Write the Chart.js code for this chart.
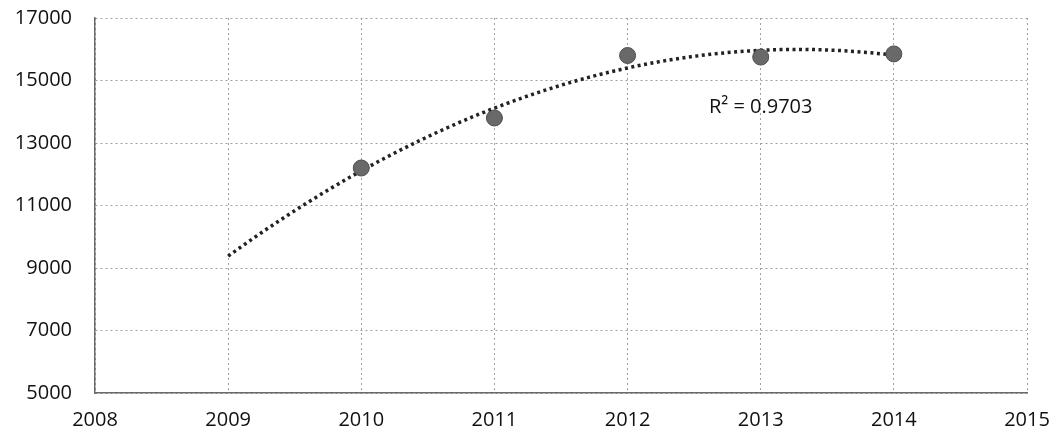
<!DOCTYPE html>
<html>
<head>
<meta charset="utf-8">
<script src="https://cdn.jsdelivr.net/npm/chart.js@4/dist/chart.umd.min.js"></script>
<style>
  html, body { margin: 0; padding: 0; background: #fff; }
  #wrap { width: 1056px; height: 437px; position: relative; }
</style>
</head>
<body>
<div id="wrap"><canvas id="chart"></canvas></div>
<script>
// Yearly observations
const years  = [2010, 2011, 2012, 2013, 2014];
const values = [12200, 13800, 15800, 15750, 15850];

// Axis ranges and ticks
const xTicks = [2008, 2009, 2010, 2011, 2012, 2013, 2014, 2015];
const yTicks = [5000, 7000, 9000, 11000, 13000, 15000, 17000];

// Trendline settings: 2nd-order polynomial, extended one period backwards
const trendBackward = 1;
const trendLabel = 'R\u00B2 = 0.9703';

// Least-squares quadratic fit of the observations
function fitQuadratic(xs, ys) {
  const n = xs.length;
  const x0 = xs.reduce((a, b) => a + b, 0) / n;
  const s = [0, 0, 0, 0, 0], t = [0, 0, 0];
  xs.forEach((x, i) => {
    const u = x - x0;
    for (let k = 0; k < 5; k++) s[k] += Math.pow(u, k);
    for (let k = 0; k < 3; k++) t[k] += ys[i] * Math.pow(u, k);
  });
  // Solve the 3x3 normal equations
  const m = [
    [s[0], s[1], s[2], t[0]],
    [s[1], s[2], s[3], t[1]],
    [s[2], s[3], s[4], t[2]]
  ];
  for (let c = 0; c < 3; c++) {
    for (let r = c + 1; r < 3; r++) {
      const f = m[r][c] / m[c][c];
      for (let k = c; k < 4; k++) m[r][k] -= f * m[c][k];
    }
  }
  const coef = [0, 0, 0];
  for (let r = 2; r >= 0; r--) {
    let v = m[r][3];
    for (let k = r + 1; k < 3; k++) v -= m[r][k] * coef[k];
    coef[r] = v / m[r][r];
  }
  return x => { const u = x - x0; return coef[0] + coef[1] * u + coef[2] * u * u; };
}

const trendFn = fitQuadratic(years, values);
const trendStart = years[0] - trendBackward;
const trendEnd = years[years.length - 1];
const trendPoints = [];
for (let i = 0; i <= 200; i++) {
  const x = trendStart + (trendEnd - trendStart) * i / 200;
  trendPoints.push({ x: x, y: trendFn(x) });
}

const FONT = '"Open Sans", "Liberation Sans", sans-serif';
const TEXT = '#111111';

const labelPlugin = {
  id: 'trendLabel',
  afterDatasetsDraw(chart, args, opts) {
    const { ctx, scales } = chart;
    const px = scales.x.getPixelForValue(opts.x);
    const py = scales.y.getPixelForValue(opts.y);
    ctx.save();
    ctx.font = '20px ' + FONT;
    ctx.fillStyle = TEXT;
    ctx.textAlign = 'center';
    ctx.textBaseline = 'middle';
    ctx.fillText(opts.text, px, py);
    ctx.restore();
  }
};

new Chart(document.getElementById('chart'), {
  type: 'scatter',
  data: {
    datasets: [
      {
        label: 'trend',
        data: trendPoints,
        showLine: true,
        pointRadius: 0,
        pointHoverRadius: 0,
        borderColor: '#222222',
        borderWidth: 3.5,
        borderDash: [3, 3.5],
        tension: 0,
        order: 2
      },
      {
        label: 'values',
        data: years.map((y, i) => ({ x: y, y: values[i] })),
        pointRadius: 8,
        pointBackgroundColor: '#696969',
        pointBorderColor: '#4e4e4e',
        pointBorderWidth: 1,
        showLine: false,
        order: 1
      }
    ]
  },
  options: {
    responsive: true,
    maintainAspectRatio: false,
    animation: false,
    layout: { padding: { top: 18, right: 29, bottom: 0, left: 0 } },
    plugins: {
      legend: { display: false },
      tooltip: { enabled: false },
      trendLabel: { text: trendLabel, x: 2013, y: 14150 }
    },
    scales: {
      x: {
        type: 'linear',
        min: xTicks[0],
        max: xTicks[xTicks.length - 1],
        afterBuildTicks: s => { s.ticks = xTicks.map(v => ({ value: v })); },
        afterFit: s => { s.height = 44; s.paddingLeft = 0; s.paddingRight = 0; },
        ticks: {
          font: { family: FONT, size: 20 },
          color: TEXT,
          padding: 15,
          callback: v => String(v)
        },
        grid: { color: '#a0a0a0', lineWidth: 1, drawTicks: false },
        border: { display: true, color: '#6a6a6a', width: 1.5, dash: [2, 3] }
      },
      y: {
        min: yTicks[0],
        max: yTicks[yTicks.length - 1],
        afterBuildTicks: s => { s.ticks = yTicks.map(v => ({ value: v })); },
        afterFit: s => { s.width = 95; s.paddingTop = 0; s.paddingBottom = 0; },
        ticks: {
          font: { family: FONT, size: 20 },
          color: TEXT,
          padding: 23,
          callback: v => String(v)
        },
        grid: { color: '#a0a0a0', lineWidth: 1, drawTicks: false },
        border: { display: true, color: '#6a6a6a', width: 1.5, dash: [2, 3] }
      }
    }
  },
  plugins: [labelPlugin]
});
</script>
</body>
</html>
